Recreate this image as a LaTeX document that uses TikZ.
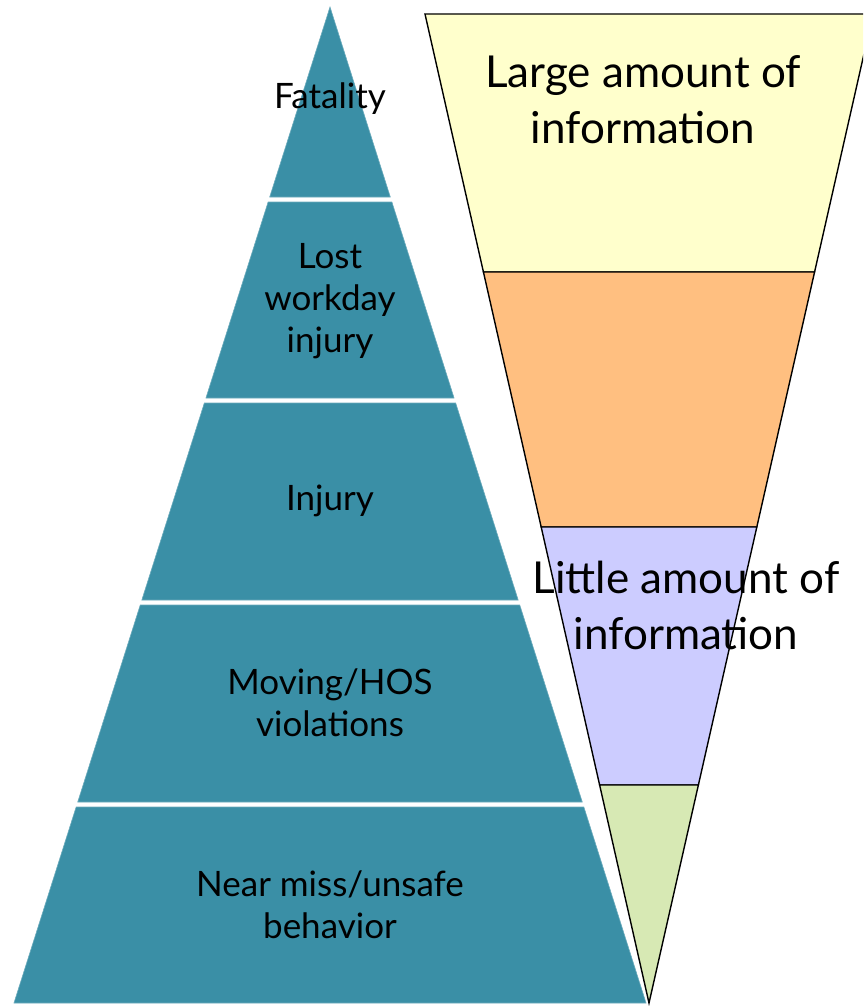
\documentclass[tikz,border=0pt]{standalone}
\usepackage{fontspec}
\setmainfont{Lato}
\definecolor{pyrteal}{RGB}{58,143,166}
\definecolor{bandyellow}{RGB}{255,255,204}
\definecolor{bandorange}{RGB}{255,191,128}
\definecolor{bandlilac}{RGB}{204,204,255}
\definecolor{bandgreen}{RGB}{215,233,180}

\begin{document}
\begin{tikzpicture}[x=1pt, y=-1pt,
tier/.style={fill=pyrteal, draw=pyrteal!75!white, line width=0.6pt},
band/.style={draw=black, line width=1.4pt, line join=miter},
tiertext/.style={align=center, inner sep=0pt, font=\fontsize{35}{42}\selectfont},
bandtext/.style={align=center, inner sep=0pt, font=\fontsize{44}{56}\selectfont}]

\useasboundingbox (0,0) rectangle (863,1006);

\foreach \t/\b in {7/197, 202/398, 403/600, 605/802, 807/1003}
  \filldraw[tier] ({330-0.3173*(\t-7)},\t) -- ({330+0.3173*(\t-7)},\t)
    -- ({330+0.3173*(\b-7)},\b) -- ({330-0.3173*(\b-7)},\b) -- cycle;

\begin{scope}
\clip (0,0) rectangle (863,1006);
\foreach \t/\b/\c in {14/272/bandyellow, 272/527/bandorange, 527/785/bandlilac, 785/1003/bandgreen}
  \filldraw[band, fill=\c] ({649-0.2265*(1003-\t)},\t) -- ({649+0.2265*(1003-\t)},\t)
    -- ({649+0.2265*(1003-\b)},\b) -- ({649-0.2265*(1003-\b)},\b) -- cycle;
\end{scope}

\node[tiertext] (fatality) at (330,99)  {Fatality};
\node[tiertext] (lost)     at (330,301) {Lost\\workday\\injury};
\node[tiertext] (injury)   at (330,501) {Injury};
\node[tiertext] (moving)   at (330,703) {Moving/HOS\\violations};
\node[tiertext] (nearmiss) at (330,905) {Near miss/unsafe\\behavior};

\node[bandtext] (large)  at (643,100) {Large amount of\\information};
\node[bandtext] (little) at (686,605) {Little amount of\\information};

\end{tikzpicture}
\end{document}
